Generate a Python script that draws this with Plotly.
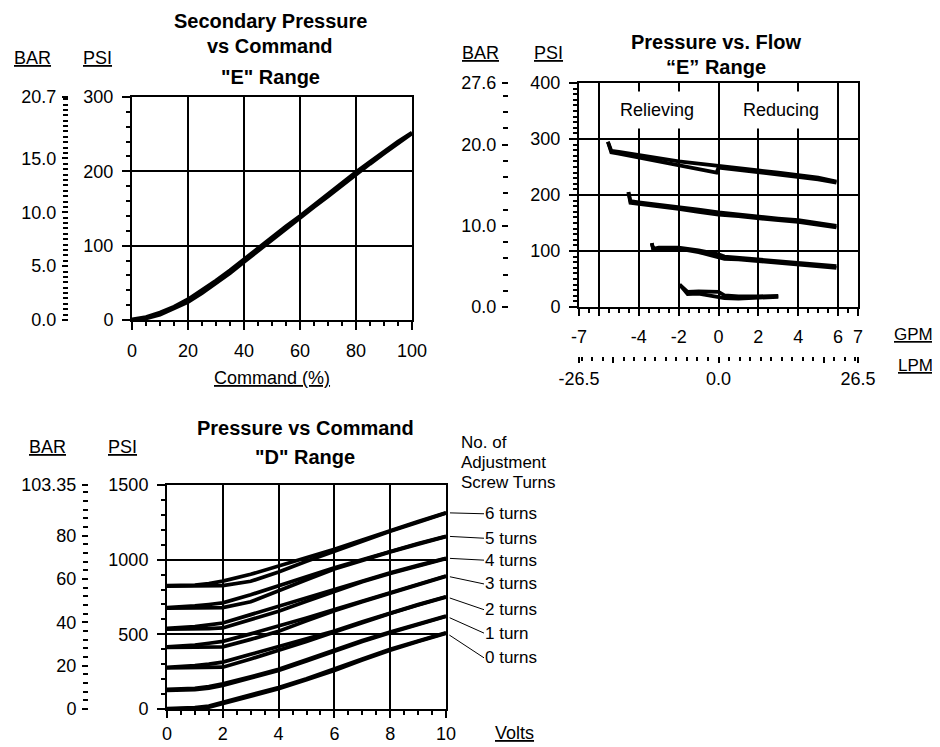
import plotly.graph_objects as go

# the page body has an 8 px margin; the figure is sized to fill the rest of the window
OFF = 8
W, H = 940 - OFF, 747 - OFF
def fx(x): return (x - OFF) / W
def fy(y): return 1 - (y - OFF) / H

PSI_TO_BAR = 0.0689476
GPM_TO_LPM = 3.78541
FONT = "Liberation Sans, Arial, sans-serif"
TICKFONT = dict(family=FONT, size=18, color="black")

# ---------------- Secondary Pressure vs Command ("E" range) ----------------
cmd_pct = [0, 5, 10, 15, 20, 25, 30, 35, 40, 45, 50, 55, 60, 65, 70, 75, 80, 85, 90, 95, 100]
sec_psi_rise = [0, 2, 7, 15, 24, 36, 49, 63, 78, 93, 108, 123, 137, 152, 166, 181, 196, 210, 224, 238, 251]
sec_psi_fall = [1, 4, 10, 18, 28, 40, 53, 67, 82, 97, 112, 126, 140, 155, 169, 184, 199, 213, 227, 240, 252]

# ---------------- Pressure vs Flow ("E" range) ----------------
flow_a = [-5.55, -5.38, -5.0, -4.0, -3.0, -2.0, -1.0, -0.1, 0.0, 1.0, 2.0, 3.0, 4.0, 5.0, 5.92]
psi_a_hi = [295, 279, 277, 271, 265, 260, 256, 252, 252, 248, 244, 240, 236, 231, 224]
psi_a_lo = [295, 276, 274, 267, 261, 254, 247, 240, 249, 245, 241, 237, 233, 228, 222]
flow_b = [-4.52, -4.42, -4.0, -3.0, -2.0, -1.0, 0.0, 1.0, 2.0, 3.0, 4.0, 5.0, 5.92]
psi_b_hi = [205, 189, 187, 183, 179, 174, 169, 165, 161, 158, 155, 150, 145]
psi_b_lo = [205, 186, 184, 180, 175, 170, 165, 162, 158, 155, 152, 147, 142]
flow_c = [-3.35, -3.27, -3.0, -2.0, -1.0, 0.0, 0.3, 1.0, 2.0, 3.0, 4.0, 5.0, 5.92]
psi_c_hi = [114, 104, 106, 106, 101, 94, 90, 88, 85, 82, 79, 76, 73]
psi_c_lo = [114, 102, 103, 104, 98, 90, 86, 85, 82, 79, 76, 73, 70]
flow_d = [-1.95, -1.55, -1.0, 0.0, 0.3, 1.0, 2.0, 3.0]
psi_d_hi = [40, 27, 28, 27, 21, 19, 19, 20]
psi_d_lo = [40, 23, 24, 19, 16, 15, 16, 18]
flow_sets = [(flow_a, psi_a_hi, psi_a_lo), (flow_b, psi_b_hi, psi_b_lo),
             (flow_c, psi_c_hi, psi_c_lo), (flow_d, psi_d_hi, psi_d_lo)]
gpm_tickvals = [-7, -6, -4, -2, 0, 2, 4, 6, 7]
gpm_ticktext = ["-7", "", "-4", "-2", "0", "2", "4", "6", "7"]
lpm_tickvals = [-26.5, -20, 0, 20, 26.5]
lpm_ticktext = ["-26.5", "", "0.0", "", "26.5"]

# ---------------- Pressure vs Command ("D" range) ----------------
volts = [0, 0.5, 1, 1.5, 2, 3, 4, 5, 6, 7, 8, 9, 10]
turn_labels = ["0 turns", "1 turn", "2 turns", "3 turns", "4 turns", "5 turns", "6 turns"]
turns_lo = [
    [0, 1, 4, 12, 36, 85, 135, 196, 258, 328, 394, 452, 507],
    [125, 126, 130, 140, 158, 208, 258, 322, 388, 452, 510, 567, 620],
    [276, 276, 277, 278, 280, 335, 392, 452, 515, 580, 640, 697, 750],
    [412, 412, 413, 414, 416, 466, 520, 590, 658, 718, 775, 834, 889],
    [535, 535, 536, 538, 543, 597, 655, 722, 790, 852, 908, 960, 1008],
    [676, 676, 676, 677, 679, 718, 789, 865, 938, 996, 1052, 1104, 1155],
    [823, 823, 823, 824, 826, 855, 918, 990, 1058, 1124, 1190, 1250, 1312],
]
turns_hi = [
    [3, 5, 9, 20, 46, 94, 144, 203, 266, 334, 400, 456, 510],
    [131, 133, 138, 150, 168, 215, 266, 330, 396, 458, 516, 571, 622],
    [279, 283, 290, 300, 314, 366, 419, 470, 522, 585, 645, 699, 752],
    [416, 420, 428, 440, 453, 503, 554, 610, 666, 722, 780, 836, 891],
    [540, 545, 552, 563, 576, 632, 688, 745, 800, 858, 913, 962, 1010],
    [679, 683, 690, 700, 711, 765, 823, 885, 946, 1002, 1058, 1108, 1157],
    [826, 828, 830, 840, 856, 902, 957, 1013, 1069, 1132, 1196, 1255, 1314],
]
label_dy = [25, 17, 13, 8, 2, 2, 1]

fig = go.Figure()
LW = 3.7
line = dict(color="black", width=LW)

def add(x, y, xa, ya):
    fig.add_trace(go.Scatter(x=x, y=y, xaxis=xa, yaxis=ya, mode="lines",
                             line=line, hoverinfo="skip", showlegend=False))

def ghost(x, y, xa, ya):
    fig.add_trace(go.Scatter(x=x, y=y, xaxis=xa, yaxis=ya, mode="lines",
                             line=dict(width=0, color="rgba(0,0,0,0)"),
                             hoverinfo="skip", showlegend=False))

# top-left
add(cmd_pct, sec_psi_rise, "x", "y")
add(cmd_pct, sec_psi_fall, "x", "y")
ghost(cmd_pct, [p * PSI_TO_BAR for p in sec_psi_rise], "x", "y2")
# top-right
for fl, hi, lo in flow_sets:
    add(fl, hi, "x2", "y3")
    add(fl, lo, "x2", "y3")
ghost([g * GPM_TO_LPM for g in flow_a], [p * PSI_TO_BAR for p in psi_a_hi], "x3", "y4")
# bottom
for lo, hi in zip(turns_lo, turns_hi):
    add(volts, lo, "x4", "y5")
    add(volts, hi, "x4", "y5")
ghost(volts, [p * PSI_TO_BAR for p in turns_hi[6]], "x4", "y6")

def main_x(domain, anchor, **kw):
    d = dict(domain=domain, anchor=anchor, showline=True, linecolor="black", linewidth=2,
             mirror=True, showgrid=True, gridcolor="black", gridwidth=1.5, zeroline=False,
             ticks="outside", ticklen=8, tickwidth=1.5, tickcolor="black",
             tickfont=TICKFONT, ticklabelstandoff=5, fixedrange=True, automargin=False)
    d.update(kw)
    return d

def bar_axis(overlay, pos, rng, vals, text, minor_vals):
    return dict(overlaying=overlay, anchor="free", position=pos, side="left", range=rng,
                showline=False, showgrid=False, zeroline=False, ticks="outside", ticklen=6,
                tickwidth=1.5, tickcolor="black", tickmode="array", tickvals=vals,
                ticktext=text, tickfont=TICKFONT, ticklabelstandoff=2, automargin=False,
                minor=dict(tickmode="array", tickvals=minor_vals, ticklen=5, tickwidth=1.5,
                           tickcolor="black", showgrid=False),
                fixedrange=True)

fig.update_layout(
    width=W, height=H, margin=dict(l=0, r=0, t=0, b=0, autoexpand=False),
    paper_bgcolor="white", plot_bgcolor="white", showlegend=False,
    font=dict(family=FONT, color="black"),
    # top-left
    xaxis=main_x([fx(132), fx(412)], "y", range=[0, 100], tickmode="linear", tick0=0, dtick=20,
                 minor=dict(dtick=5, tick0=0, ticklen=4, tickwidth=1.5, tickcolor="black", showgrid=False)),
    yaxis=main_x([fy(320), fy(97)], "x", range=[0, 300], tickmode="linear", tick0=0, dtick=100,
                 minor=dict(dtick=20, tick0=0, ticklen=4, tickwidth=1.5, tickcolor="black", showgrid=False)),
    yaxis2=bar_axis("y", fx(68), [0, 20.7], [0, 5, 10, 15, 20.7],
                    ["0.0", "5.0", "10.0", "15.0", "20.7"], [i * 0.5 for i in range(1, 42)]),
    # top-right
    xaxis2=main_x([fx(579), fx(858)], "y3", range=[-7, 7], tickmode="array",
                  tickvals=gpm_tickvals, ticktext=gpm_ticktext, ticklen=7,
                  minor=dict(dtick=0.5, tick0=0, ticklen=4, tickwidth=1.5, tickcolor="black", showgrid=False)),
    yaxis3=main_x([fy(307), fy(83)], "x2", range=[0, 400], tickmode="linear", tick0=0, dtick=100,
                  minor=dict(dtick=10, tick0=0, ticklen=4, tickwidth=1.5, tickcolor="black", showgrid=False)),
    yaxis4=bar_axis("y3", fx(508), [0, 27.6], [0, 10, 20, 27.6],
                    ["0.0", "10.0", "20.0", "27.6"], [2, 4, 6, 8, 12, 14, 16, 18, 22, 24, 26]),
    xaxis3=dict(overlaying="x2", anchor="free", position=fy(356), side="bottom",
                range=[-26.5, 26.5], showline=False, showgrid=False, zeroline=False,
                ticks="outside", ticklen=6, tickwidth=1.5, tickcolor="black",
                tickmode="array", tickvals=lpm_tickvals, ticktext=lpm_ticktext,
                tickfont=TICKFONT, ticklabelstandoff=0, automargin=False,
                minor=dict(tickmode="array", tickvals=[v for v in range(-26, 27, 2) if v not in (-20, 0, 20)],
                           ticklen=4, tickwidth=1.5, tickcolor="black", showgrid=False),
                fixedrange=True),
    # bottom
    xaxis4=main_x([fx(167), fx(446)], "y5", range=[0, 10], tickmode="linear", tick0=0, dtick=2,
                  ticklen=7, ticklabelstandoff=0,
                  minor=dict(dtick=0.5, tick0=0, ticklen=4, tickwidth=1.5, tickcolor="black", showgrid=False)),
    yaxis5=main_x([fy(709), fy(485)], "x4", range=[0, 1500], tickmode="linear", tick0=0, dtick=500,
                  minor=dict(dtick=100, tick0=0, ticklen=4, tickwidth=1.5, tickcolor="black", showgrid=False)),
    yaxis6=bar_axis("y5", fx(88), [0, 103.35], [0, 20, 40, 60, 80, 103.35],
                    ["0", "20", "40", "60", "80", "103.35"],
                    [v for v in range(4, 101, 4) if v not in (20, 40, 60, 80)]),
)

ann = []
def txt(x, y, s, size=18, bold=False, xanchor="center", bg=None, pad=1):
    a = dict(x=fx(x), y=fy(y), xref="paper", yref="paper", text=s, showarrow=False,
             xanchor=xanchor, yanchor="middle",
             font=dict(family=FONT, size=size, color="black",
                       weight="bold" if bold else "normal"), borderpad=pad)
    if bg:
        a["bgcolor"] = bg
    ann.append(a)

# titles
txt(270, 21, "Secondary Pressure", 20, True)
txt(270, 46, "vs Command", 20, True)
txt(270, 77, "\"E\" Range", 20, True)
txt(716, 42, "Pressure vs. Flow", 20, True)
txt(716, 67, "\u201cE\u201d Range", 20, True)
txt(305, 428, "Pressure vs Command", 20, True)
txt(305, 457, "\"D\" Range", 20, True)
# unit labels
txt(32, 58, "<u>BAR</u>")
txt(97, 58, "<u>PSI</u>")
txt(480, 53, "<u>BAR</u>")
txt(548, 53, "<u>PSI</u>")
txt(47, 447, "<u>BAR</u>")
txt(122, 447, "<u>PSI</u>")
txt(272, 378, "<u>Command (%)</u>")
txt(935, 334, "<u>GPM</u>", 17, xanchor="right")
txt(935, 365, "<u>LPM</u>", 17, xanchor="right")
txt(493, 733, "<u>Volts</u>", xanchor="left")
# region labels
txt(657, 110, "Relieving", 18, bg="white", pad=8)
txt(781, 110, "Reducing", 18, bg="white", pad=8)
# legend heading
txt(459, 442, "No. of", 17, xanchor="left")
txt(459, 462, "Adjustment", 17, xanchor="left")
txt(459, 482, "Screw Turns", 17, xanchor="left")

for lbl, hi, dy in zip(turn_labels, turns_hi, label_dy):
    ann.append(dict(x=volts[-1], y=hi[-1], xref="x4", yref="y5", text=lbl,
                    showarrow=True, arrowhead=0, arrowwidth=1, arrowcolor="black",
                    ax=38, ay=dy, standoff=4, xanchor="left", yanchor="middle",
                    font=dict(family=FONT, size=17, color="black"), borderpad=0))

fig.update_layout(annotations=ann)
fig.write_html("out.html")
